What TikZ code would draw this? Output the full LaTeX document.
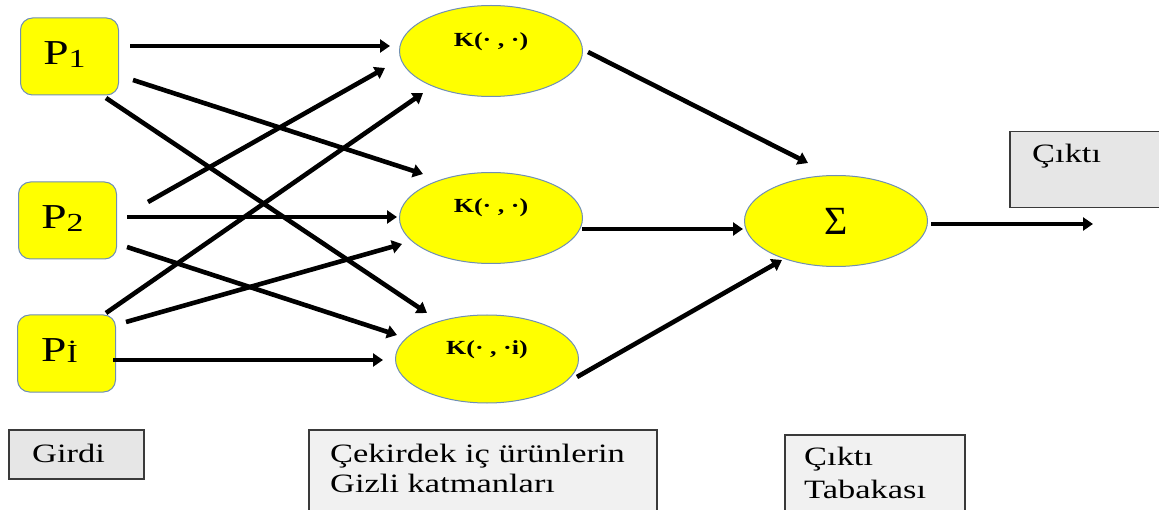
\documentclass[tikz,border=0pt]{standalone}
\usepackage{graphicx}
\usepackage{fontspec}
\setmainfont{Liberation Serif}
\newcommand{\wtxt}[1]{\scalebox{1.3}[1]{#1}}
\usetikzlibrary{arrows.meta,calc,shapes.geometric}
\definecolor{ybox}{HTML}{FFFF00}
\definecolor{bline}{HTML}{6F8FB5}
\definecolor{gboxa}{HTML}{E6E6E6}
\definecolor{gboxb}{HTML}{F1F1F1}
\definecolor{gline}{HTML}{3A3A3A}
\begin{document}
\begin{tikzpicture}[x=1pt,y=-1pt,
  pbox/.style={draw=bline, line width=1pt, fill=ybox, rounded corners=12pt,
    minimum width=98pt, minimum height=77pt, inner sep=0pt},
  kell/.style={ellipse, draw=bline, line width=1pt, fill=ybox,
    minimum width=183pt, minimum height=91pt, inner sep=0pt},
  conn/.style={line width=4.6pt, black, -{Triangle[length=10pt,width=13pt]}},
  lblbox/.style={draw=gline, line width=1.5pt, anchor=north west, inner sep=0pt},
  lbltext/.style={anchor=base west, inner sep=0pt, font=\fontsize{26.5}{30}\selectfont},
  ktext/.style={anchor=base, inner sep=0pt, font=\bfseries\fontsize{20}{20}\selectfont},
  ptext/.style={anchor=base, inner sep=0pt, font=\fontsize{35}{35}\selectfont}
]
\useasboundingbox (0,0) rectangle (1159,510);
\clip (0,0) rectangle (1159,510);

% input boxes
\node[pbox] (P1) at (69.5,56.5) {};
\node[pbox] (P2) at (67.5,220.5) {};
\node[pbox] (Pi) at (66.5,353.5) {};
\node[ptext] (P1t) at ($(P1)+(-5,8.5)$) {\wtxt{P\raisebox{-3pt}{\fontsize{26}{26}\selectfont 1}}};
\node[ptext] (P2t) at ($(P2)+(-5,8.5)$) {\wtxt{P\raisebox{-3pt}{\fontsize{26}{26}\selectfont 2}}};
\node[ptext] (Pit) at ($(Pi)+(-7,8.5)$) {\wtxt{P\raisebox{-1pt}{\fontsize{26}{26}\selectfont İ}}};

% kernel ellipses
\node[kell] (E1) at (491,51) {};
\node[kell] (E2) at (491,218) {};
\node[kell, minimum height=88pt] (E3) at (487,359) {};
\node[ktext] (E1t) at ($(E1)+(0,-4)$) {\wtxt{K(· , ·)}};
\node[ktext] (E2t) at ($(E2)+(0,-5)$) {\wtxt{K(· , ·)}};
\node[ktext] (E3t) at ($(E3)+(0,-4)$) {\wtxt{K(· , ·i)}};

% sum
\node[kell] (S) at (836,221) {};
\node[anchor=base, inner sep=0pt, font=\fontsize{40}{40}\selectfont] (St) at ($(S)+(0,14)$) {Σ};
\coordinate (out) at (1093,224);

% connectors input -> kernel
\draw[conn] ($(P1)+(60.5,-10.5)$) -- ($(E1)+(-101,-5)$);
\draw[conn] ($(P1)+(63.5,23.5)$) -- ($(E2)+(-68,-44)$);
\draw[conn] ($(P1)+(36.5,41.5)$) -- ($(E3)+(-60,-46)$);
\draw[conn] ($(P2)+(80.5,-18.5)$) -- ($(E1)+(-106,17)$);
\draw[conn] ($(P2)+(59.5,-3.5)$) -- ($(E2)+(-94,-1)$);
\draw[conn] ($(P2)+(59.5,26.5)$) -- ($(E3)+(-90,-24)$);
\draw[conn] ($(Pi)+(39.5,-40.5)$) -- ($(E1)+(-68,42)$);
\draw[conn] ($(Pi)+(59.5,-31.5)$) -- ($(E2)+(-89,26)$);
\draw[conn] ($(Pi)+(46.5,6.5)$) -- ($(E3)+(-104,1)$);

% kernel -> sum
\draw[conn] ($(E1)+(97,1)$) -- ($(S)+(-28,-58)$);
\draw[conn] ($(E2)+(91,11)$) -- ($(S)+(-93,8)$);
\draw[conn] ($(E3)+(90,18)$) -- ($(S)+(-54,39)$);
\draw[conn] ($(S)+(95,3)$) -- (out);

% label boxes
\node[lblbox, fill=gboxa, minimum width=160pt, minimum height=76pt] (cbox) at (1009,131) {};
\node[lbltext] (ctext) at (1032,163) {\wtxt{Çıktı}};

\node[lblbox, fill=gboxa, minimum width=135pt, minimum height=49pt] (gbox) at (8,429) {};
\node[lbltext] (gtext) at (32,462) {\wtxt{Girdi}};

\node[lblbox, fill=gboxb, minimum width=348pt, minimum height=100pt] (mbox) at (308,429) {};
\node[lbltext] (mtext1) at (330,462) {\wtxt{Çekirdek iç ürünlerin}};
\node[lbltext] (mtext2) at (330,492) {\wtxt{Gizli katmanları}};

\node[lblbox, fill=gboxb, minimum width=180pt, minimum height=100pt] (obox) at (784,434) {};
\node[lbltext] (otext1) at (804,465) {\wtxt{Çıktı}};
\node[lbltext] (otext2) at (804,498) {\wtxt{Tabakası}};
\end{tikzpicture}
\end{document}
